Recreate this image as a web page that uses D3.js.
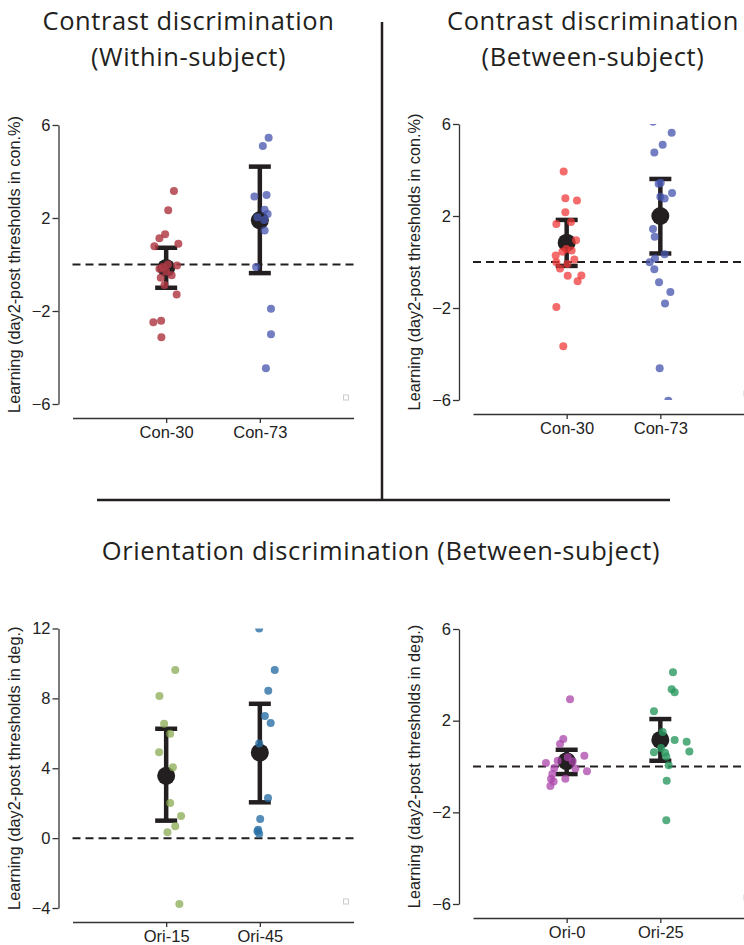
<!DOCTYPE html>
<html>
<head>
<meta charset="utf-8">
<script src="https://cdn.jsdelivr.net/npm/d3@7"></script>
<style>
  body { margin: 0; background: #fff; }
  svg { display: block; }
  .axis-text { font-family: 'Liberation Sans', Arial, sans-serif; }
</style>
</head>
<body>
<svg id="chart" width="744" height="945"></svg>
<script>
// categories
const conCats = ['Con-30', 'Con-73']
const oriLeftCats = ['Ori-15', 'Ori-45']
const oriRightCats = ['Ori-0', 'Ori-25']

// tick values
const conTicks = [-6, -2, 2, 6]
const oriLeftTicks = [-4, 0, 4, 8, 12]
const oriRightTicks = [-6, -2, 2, 6]

// contrast, within-subject: individual learning (con.%) and jitter (category units)
const conWithin30 = [3.16, 2.33, 1.30, 1.13, 0.78, 0.89, -0.11, -0.18, 0.0, -0.04, -0.46, -0.57, -0.88, -1.29, -2.48, -2.42, -3.13, -0.3]
const conWithin30Jitter = [0.083, 0.022, -0.011, -0.072, -0.126, 0.130, -0.036, -0.072, 0.018, 0.116, 0.058, -0.058, -0.018, 0.112, -0.137, -0.054, -0.051, 0.0]
const conWithin73 = [5.45, 5.10, 2.93, 2.99, 2.35, 2.17, 2.03, 1.91, 1.46, -0.11, -1.90, -3.0, -4.46]
const conWithin73Jitter = [0.094, 0.032, -0.058, 0.072, 0.051, 0.083, -0.025, 0.047, 0.051, -0.040, 0.119, 0.119, 0.065]
const conWithinMean = [-0.15, 1.90]
const conWithinLow = [-1.0, -0.37]
const conWithinHigh = [0.72, 4.21]

// contrast, between-subject
const conBetween30 = [3.93, 2.77, 2.67, 2.16, 1.65, 1.74, 0.95, 0.57, 0.50, 0.45, 0.28, 0.11, -0.01, -0.09, -0.28, -0.60, -0.59, -0.84, -1.96, -3.66]
const conBetween30Jitter = [-0.032, -0.014, 0.110, -0.014, -0.110, 0.046, 0.100, -0.004, 0.053, -0.046, -0.117, 0.082, -0.110, 0.007, -0.071, 0.011, 0.157, 0.117, -0.110, -0.036]
const conBetween73 = [6.1, 5.62, 5.10, 4.76, 3.40, 3.45, 3.0, 2.84, 2.76, 1.43, 1.10, 0.34, 0.15, -0.01, -0.31, -0.88, -1.30, -1.80, -4.62, -6.03]
const conBetween73Jitter = [-0.078, 0.121, 0.025, -0.064, -0.018, 0.004, 0.125, 0.0, 0.046, -0.078, -0.060, 0.046, -0.057, -0.114, -0.064, -0.014, 0.107, 0.050, -0.007, 0.085]
const conBetweenMean = [0.84, 2.0]
const conBetweenLow = [-0.17, 0.37]
const conBetweenHigh = [1.83, 3.61]

// orientation, between-subject (deg.)
const ori15 = [9.62, 8.14, 6.55, 5.97, 4.91, 4.06, 2.01, 1.26, 0.68, 0.33, -3.77]
const ori15Jitter = [0.097, -0.072, -0.022, 0.043, -0.076, 0.072, 0.043, 0.159, 0.097, 0.014, 0.141]
const ori45 = [12.0, 9.62, 8.44, 6.99, 6.59, 5.41, 2.30, 1.10, 0.48, 0.39, 0.25]
const ori45Jitter = [-0.007, 0.159, 0.090, 0.054, 0.116, -0.007, 0.087, 0.004, -0.018, -0.025, -0.007]
const oriLeftMean = [3.57, 4.89]
const oriLeftLow = [1.0, 2.05]
const oriLeftHigh = [6.26, 7.69]

const ori0 = [2.93, 1.20, 0.98, 0.47, 0.15, 0.25, 0.23, 0.40, -0.07, -0.09, -0.21, -0.33, -0.55, -0.65, -0.85, -0.53]
const ori0Jitter = [0.036, -0.036, -0.071, 0.189, -0.221, -0.096, 0.064, 0.011, -0.132, 0.093, 0.217, -0.153, -0.167, -0.139, -0.174, -0.014]
const ori25 = [4.11, 3.37, 3.24, 2.41, 1.51, 1.16, 1.08, 0.66, 0.62, 0.81, 0.60, 0.44, 0.05, -0.62, -2.35]
const ori25Jitter = [0.135, 0.121, 0.153, -0.068, 0.025, 0.153, 0.281, 0.310, -0.068, 0.007, 0.050, 0.064, 0.089, 0.068, 0.064]
const oriRightMean = [0.23, 1.16]
const oriRightLow = [-0.33, 0.25]
const oriRightHigh = [0.73, 2.07]

const ink = '#231f20'
const svg = d3.select('#chart')

/**
 * One strip plot: jittered subjects, mean dot and error bar per category
 */
function drawPanel (p) {
  const y = d3.scaleLinear().domain(p.domain).range([p.bottom, p.top])
  const x = d3.scaleLinear().domain([-1, 2]).range([p.left + 14, p.left + 295])
  const g = svg.append('g')

  g.append('clipPath').attr('id', 'clip-' + p.id)
    .append('rect')
    .attr('x', p.left).attr('y', p.top)
    .attr('width', 320).attr('height', p.bottom - p.top)

  // y axis
  const ya = g.append('g')
    .attr('transform', `translate(${p.left},0)`)
    .call(d3.axisLeft(y).tickValues(p.ticks).tickSize(6).tickSizeOuter(0).tickPadding(2))
  ya.attr('font-family', null).attr('font-size', null)
  ya.select('.domain').attr('stroke', '#333').attr('stroke-width', 1.3)
  ya.selectAll('.tick line').attr('stroke', '#333').attr('stroke-width', 1.3)
  ya.selectAll('.tick text')
    .attr('class', 'axis-text')
    .style('font-size', '16.5px').attr('fill', '#222')

  // x axis
  const xa = g.append('g')
    .attr('transform', `translate(0,${p.axisY})`)
    .call(d3.axisBottom(x).tickValues([0, 1]).tickFormat(i => p.cats[i]).tickSize(5).tickSizeOuter(0).tickPadding(3))
  xa.attr('font-family', null).attr('font-size', null)
  xa.select('.domain').attr('stroke', '#333').attr('stroke-width', 1.3)
  xa.selectAll('.tick line').attr('stroke', '#333').attr('stroke-width', 1.3)
  xa.selectAll('.tick text')
    .attr('class', 'axis-text')
    .style('font-size', '16.5px').attr('fill', '#222')

  // y label
  g.append('text')
    .attr('class', 'axis-text')
    .attr('transform', `translate(${p.left - 39},${(p.top + p.bottom) / 2}) rotate(-90)`)
    .attr('text-anchor', 'middle')
    .style('font-size', '16.3px').attr('fill', '#222')
    .text(p.label)

  // zero line
  g.append('line')
    .attr('x1', x(-1)).attr('x2', x(2))
    .attr('y1', y(0)).attr('y2', y(0))
    .attr('stroke', ink).attr('stroke-width', 2)
    .attr('stroke-dasharray', '8,5')

  // error bars and means
  const stats = p.mean.map((m, i) => ({ i, m, lo: p.low[i], hi: p.high[i] }))
  g.selectAll('line.bar').data(stats).join('line').attr('class', 'bar')
    .attr('x1', d => x(d.i)).attr('x2', d => x(d.i))
    .attr('y1', d => y(d.lo)).attr('y2', d => y(d.hi))
    .attr('stroke', ink).attr('stroke-width', 4.5)
  g.selectAll('line.caplo').data(stats).join('line').attr('class', 'caplo')
    .attr('x1', d => x(d.i) - 11).attr('x2', d => x(d.i) + 11)
    .attr('y1', d => y(d.lo)).attr('y2', d => y(d.lo))
    .attr('stroke', ink).attr('stroke-width', 4.5)
  g.selectAll('line.caphi').data(stats).join('line').attr('class', 'caphi')
    .attr('x1', d => x(d.i) - 11).attr('x2', d => x(d.i) + 11)
    .attr('y1', d => y(d.hi)).attr('y2', d => y(d.hi))
    .attr('stroke', ink).attr('stroke-width', 4.5)
  g.selectAll('circle.mean').data(stats).join('circle').attr('class', 'mean')
    .attr('cx', d => x(d.i)).attr('cy', d => y(d.m))
    .attr('r', 9).attr('fill', ink)

  // subjects
  p.groups.forEach((grp, i) => {
    const pts = grp.values.map((v, k) => ({ v, j: grp.jitter[k] }))
    g.append('g').attr('clip-path', `url(#clip-${p.id})`)
      .selectAll('circle')
      .data(pts)
      .join('circle')
      .attr('cx', d => x(i + d.j))
      .attr('cy', d => y(d.v))
      .attr('r', 4)
      .attr('fill', grp.color)
      .attr('fill-opacity', grp.opacity)
  })

  // small stray marker at lower right
  g.append('rect')
    .attr('x', p.left + 285).attr('y', p.bottom - 9)
    .attr('width', 5).attr('height', 5)
    .attr('fill', '#fff').attr('stroke', '#ccc').attr('stroke-width', 1)
}

const conLabel = 'Learning (day2-post thresholds in con.%)'
const oriLabel = 'Learning (day2-post thresholds in deg.)'

drawPanel({
  id: 'tl', left: 58.5, top: 125, bottom: 404, axisY: 418,
  domain: [-6, 6], ticks: conTicks, cats: conCats, label: conLabel,
  mean: conWithinMean, low: conWithinLow, high: conWithinHigh,
  groups: [
    { values: conWithin30, jitter: conWithin30Jitter, color: '#b03a46', opacity: 0.83 },
    { values: conWithin73, jitter: conWithin73Jitter, color: '#4656ae', opacity: 0.76 }
  ]
})
drawPanel({
  id: 'tr', left: 459, top: 124, bottom: 400, axisY: 414,
  domain: [-6, 6], ticks: conTicks, cats: conCats, label: conLabel,
  mean: conBetweenMean, low: conBetweenLow, high: conBetweenHigh,
  groups: [
    { values: conBetween30, jitter: conBetween30Jitter, color: '#f03a3a', opacity: 0.75 },
    { values: conBetween73, jitter: conBetween73Jitter, color: '#4656ae', opacity: 0.76 }
  ]
})
drawPanel({
  id: 'bl', left: 58.5, top: 628.5, bottom: 908, axisY: 922,
  domain: [-4, 12], ticks: oriLeftTicks, cats: oriLeftCats, label: oriLabel,
  mean: oriLeftMean, low: oriLeftLow, high: oriLeftHigh,
  groups: [
    { values: ori15, jitter: ori15Jitter, color: '#8aab52', opacity: 0.75 },
    { values: ori45, jitter: ori45Jitter, color: '#2a70a6', opacity: 0.8 }
  ]
})
drawPanel({
  id: 'br', left: 459, top: 629, bottom: 904, axisY: 918,
  domain: [-6, 6], ticks: oriRightTicks, cats: oriRightCats, label: oriLabel,
  mean: oriRightMean, low: oriRightLow, high: oriRightHigh,
  groups: [
    { values: ori0, jitter: ori0Jitter, color: '#ab45ab', opacity: 0.75 },
    { values: ori25, jitter: ori25Jitter, color: '#2a9860', opacity: 0.8 }
  ]
})

// section titles
const titles = [
  { x: 188.5, y: 30, t: 'Contrast discrimination' },
  { x: 188.5, y: 65.5, t: '(Within-subject)' },
  { x: 593, y: 30, t: 'Contrast discrimination' },
  { x: 593, y: 65.5, t: '(Between-subject)' },
  { x: 381, y: 560, t: 'Orientation discrimination (Between-subject)' }
]
svg.selectAll('text.title').data(titles).join('text').attr('class', 'title')
  .attr('x', d => d.x).attr('y', d => d.y)
  .attr('text-anchor', 'middle')
  .style('font-family', "'Open Sans', sans-serif").style('font-size', '25.5px')
  .style('letter-spacing', '0.6px')
  .attr('fill', ink)
  .text(d => d.t)

// separators
svg.append('line').attr('x1', 382).attr('x2', 382).attr('y1', 22).attr('y2', 500)
  .attr('stroke', ink).attr('stroke-width', 2.5)
svg.append('line').attr('x1', 97).attr('x2', 670).attr('y1', 500).attr('y2', 500)
  .attr('stroke', ink).attr('stroke-width', 2.5)
</script>
</body>
</html>
